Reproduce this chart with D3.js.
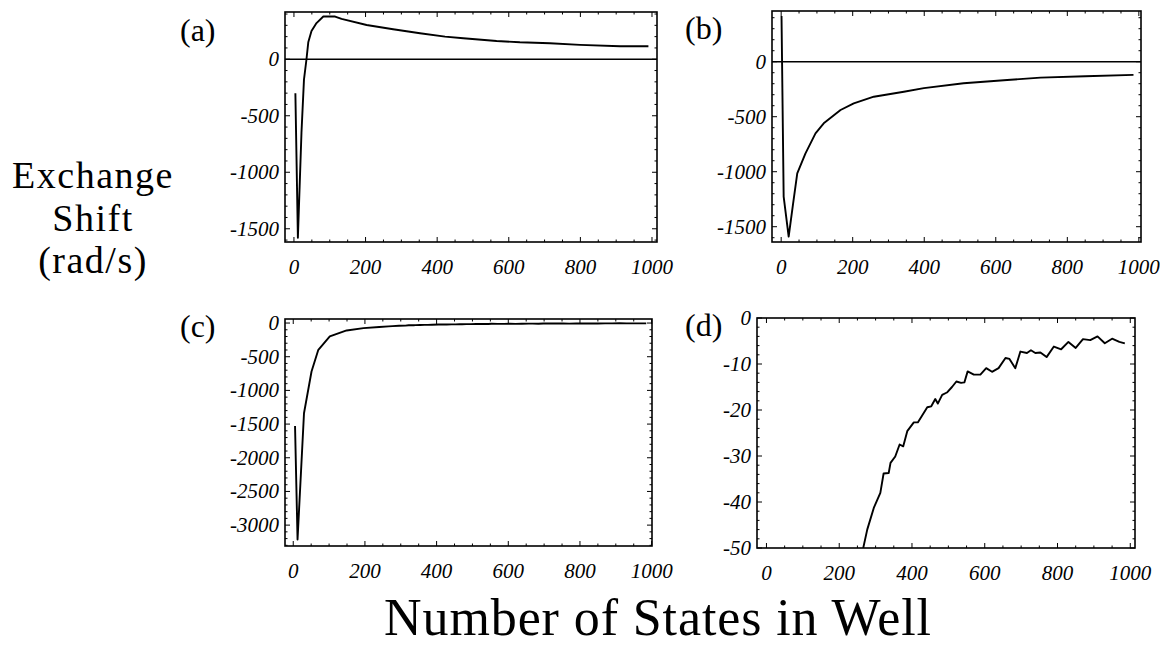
<!DOCTYPE html>
<html>
<head>
<meta charset="utf-8">
<script src="https://cdn.jsdelivr.net/npm/d3@7"></script>
<style>
  body { margin: 0; background: #fff; }
  svg { display: block; }
  text { font-family: "Liberation Serif", "Times New Roman", serif; fill: #000; }
  .tick-label { font-style: italic; font-size: 21px; }
</style>
</head>
<body>
<div id="chart"></div>
<script>
// panel (a)
const aX = [4, 11, 21, 28, 35, 40, 49, 63, 82, 115, 133, 203, 277, 352, 422, 473, 566, 631, 715, 799, 911, 990];
const aY = [-300, -1580, -650, -180, 0, 150, 250, 320, 378, 378, 357, 303, 265, 230, 200, 186, 162, 150, 141, 127, 115, 115];

// panel (b)
const bX = [1, 7, 21, 33, 45, 68, 96, 119, 166, 203, 259, 343, 399, 510, 632, 725, 850, 985];
const bY = [415, -1227, -1590, -1300, -1015, -833, -651, -560, -439, -378, -318, -273, -240, -196, -166, -145, -132, -120];

// panel (c), first part; the tail is the same series as (d)
const cX = [5, 12, 30, 51, 70, 102, 149, 196, 240];
const cY = [-1528, -3214, -1339, -720, -397, -199, -110, -75, -58];

// panel (d)
const dX = [266, 277, 295, 313, 322, 336, 341, 354, 366, 376, 387, 405, 416, 428, 442, 453, 464, 471, 483, 496,
            510, 522, 535, 544, 553, 570, 588, 604, 620, 638, 657, 668, 684, 698, 716, 727, 739, 753,
            770, 790, 810, 830, 850, 870, 890, 910, 930, 950, 970, 985];
const dY = [-50, -46, -41.3, -38, -33.8, -33.7, -31.5, -30.1, -27.5, -27.9, -24.6, -22.7, -22.7, -21.2, -19.4, -19.2, -17.6, -18.6, -16.7, -16.2,
            -15, -13.8, -14.1, -14, -11.6, -12.3, -12.3, -10.9, -11.7, -10.9, -8.7, -8.9, -10.9, -7.3, -7.6, -7.0, -7.6, -7.5,
            -8.5, -6.2, -6.8, -5.2, -6.5, -4.6, -4.8, -4.0, -5.5, -4.5, -5.2, -5.5];

const xTickValues = [0, 200, 400, 600, 800, 1000];

const width = 1160, height = 647;
const svg = d3.select("#chart").append("svg")
    .attr("width", width)
    .attr("height", height);

const panels = [
    { name: "(a)", box: [285, 657, 12, 242], xDomain: [-25, 1014], yDomain: [-1617, 418],
      yTicks: [0, -500, -1000, -1500], yMinor: 100, zero: true, xs: aX, ys: aY,
      label: [180, 41] },
    { name: "(b)", box: [772, 1141, 11, 242], xDomain: [-25.6, 1006], yDomain: [-1639, 461],
      yTicks: [0, -500, -1000, -1500], yMinor: 100, zero: true, xs: bX, ys: bY,
      label: [685, 39] },
    { name: "(c)", box: [285, 652, 319, 546], xDomain: [-23, 1001], yDomain: [-3310, 60],
      yTicks: [0, -500, -1000, -1500, -2000, -2500, -3000], yMinor: 100, zero: false,
      xs: cX.concat(dX), ys: cY.concat(dY), label: [180, 337] },
    { name: "(d)", box: [757, 1135, 318, 548], xDomain: [-26, 1013], yDomain: [-50, 0],
      yTicks: [0, -10, -20, -30, -40, -50], yMinor: 2, zero: false, xs: dX, ys: dY,
      label: [685, 336] }
];

panels.forEach((p, i) => {
    const [x0, x1, y0, y1] = p.box;
    const xScale = d3.scaleLinear().domain(p.xDomain).range([x0, x1]);
    const yScale = d3.scaleLinear().domain(p.yDomain).range([y1, y0]);
    const g = svg.append("g").attr("class", "panel");

    g.append("clipPath").attr("id", "clip" + i)
        .append("rect")
        .attr("x", x0).attr("y", y0)
        .attr("width", x1 - x0).attr("height", y1 - y0);

    // minor ticks: inward on all four sides
    const xMinor = d3.range(0, 1001, 50).filter(v => v % 200 !== 0);
    const yMinorVals = d3.range(p.yDomain[0] - (p.yDomain[0] % p.yMinor), p.yDomain[1], p.yMinor)
        .filter(v => v >= p.yDomain[0] && v <= p.yDomain[1] && !p.yTicks.includes(v));

    const tickG = g.append("g").attr("stroke", "#000").attr("stroke-width", 1);
    xTickValues.concat(xMinor).forEach(v => {
        const len = xTickValues.includes(v) ? 5 : 2.5;
        const x = xScale(v);
        if (x < x0 || x > x1) return;
        tickG.append("line").attr("x1", x).attr("x2", x).attr("y1", y1).attr("y2", y1 - len);
        tickG.append("line").attr("x1", x).attr("x2", x).attr("y1", y0).attr("y2", y0 + len);
    });
    p.yTicks.concat(yMinorVals).forEach(v => {
        const len = p.yTicks.includes(v) ? 5 : 2.5;
        const y = yScale(v);
        tickG.append("line").attr("x1", x0).attr("x2", x0 + len).attr("y1", y).attr("y2", y);
        tickG.append("line").attr("x1", x1).attr("x2", x1 - len).attr("y1", y).attr("y2", y);
    });

    // zero axis line
    if (p.zero) {
        g.append("line")
            .attr("x1", x0).attr("x2", x1)
            .attr("y1", yScale(0)).attr("y2", yScale(0))
            .attr("stroke", "#000").attr("stroke-width", 1.4);
    }

    // frame
    g.append("rect")
        .attr("x", x0).attr("y", y0)
        .attr("width", x1 - x0).attr("height", y1 - y0)
        .attr("fill", "none").attr("stroke", "#000").attr("stroke-width", 1.6);

    // tick labels
    g.selectAll(".xl").data(xTickValues).enter().append("text")
        .attr("class", "tick-label")
        .attr("x", d => xScale(d))
        .attr("y", y1 + 32)
        .attr("text-anchor", "middle")
        .text(d => d);

    g.selectAll(".yl").data(p.yTicks).enter().append("text")
        .attr("class", "tick-label")
        .attr("x", x0 - 6)
        .attr("y", d => yScale(d) + 7)
        .attr("text-anchor", "end")
        .text(d => d);

    // the series
    const line = d3.line()
        .x(d => xScale(d[0]))
        .y(d => yScale(d[1]));
    g.append("path")
        .datum(d3.zip(p.xs, p.ys))
        .attr("clip-path", "url(#clip" + i + ")")
        .attr("d", line)
        .attr("fill", "none")
        .attr("stroke", "#000")
        .attr("stroke-width", 1.9)
        .attr("stroke-linejoin", "round");

    g.append("text")
        .attr("x", p.label[0]).attr("y", p.label[1])
        .style("font-size", "32px")
        .text(p.name);
});

// shared axis titles
const yTitle = ["Exchange", "Shift", "(rad/s)"];
svg.selectAll(".ytitle").data(yTitle).enter().append("text")
    .attr("class", "ytitle")
    .attr("x", 93)
    .attr("y", (d, i) => 188 + i * 42.5)
    .attr("text-anchor", "middle")
    .style("font-size", "38px")
    .style("letter-spacing", "1.5px")
    .text(d => d);

svg.append("text")
    .attr("x", 658)
    .attr("y", 635)
    .attr("text-anchor", "middle")
    .style("font-size", "52px")
    .style("letter-spacing", "0.9px")
    .text("Number of States in Well");
</script>
</body>
</html>
